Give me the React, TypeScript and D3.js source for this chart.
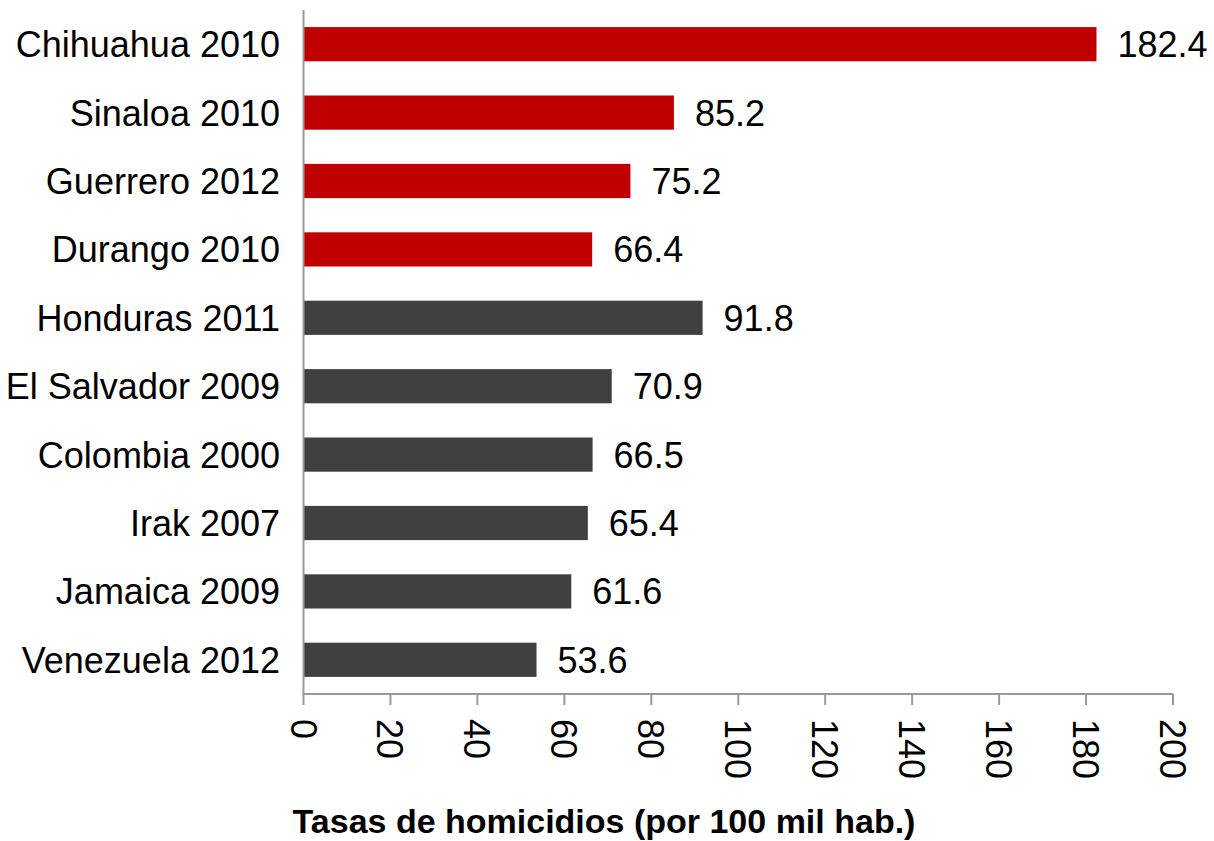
import React from "react";
import * as d3 from "d3";

const categories = [
  "Chihuahua 2010",
  "Sinaloa 2010",
  "Guerrero 2012",
  "Durango 2010",
  "Honduras 2011",
  "El Salvador 2009",
  "Colombia 2000",
  "Irak 2007",
  "Jamaica 2009",
  "Venezuela 2012",
];
const values = [182.4, 85.2, 75.2, 66.4, 91.8, 70.9, 66.5, 65.4, 61.6, 53.6];
const groups = ["mx", "mx", "mx", "mx", "w", "w", "w", "w", "w", "w"];
const xTicks = [0, 20, 40, 60, 80, 100, 120, 140, 160, 180, 200];
const axisTitle = "Tasas de homicidios (por 100 mil hab.)";

const W = 1214;
const H = 841;
const left = 303.5;
const right = 1173;
const top = 10;
const bottom = 694;
const font = "'Liberation Sans', Arial, sans-serif";

export default function App() {
  const x = d3.scaleLinear().domain([0, 200]).range([left, right]);
  const y = d3
    .scaleBand<string>()
    .domain(categories)
    .range([top, bottom])
    .paddingInner(0.5)
    .paddingOuter(0.25);
  const color = (g: string) => (g === "mx" ? "#C00000" : "#404040");

  return (
    <svg
      width={W}
      height={H}
      style={{ position: "absolute", left: 0, top: 0 }}
    >
      {categories.map((c, i) => (
        <g key={c}>
          <rect
            x={x(0)}
            y={y(c)!}
            width={x(values[i]) - x(0)}
            height={y.bandwidth()}
            fill={color(groups[i])}
          />
          <text
            x={280}
            y={y(c)! + y.bandwidth() / 2}
            dy="0.36em"
            textAnchor="end"
            fontFamily={font}
            fontSize={36}
            fill="#000"
          >
            {c}
          </text>
          <text
            x={x(values[i]) + 21}
            y={y(c)! + y.bandwidth() / 2}
            dy="0.36em"
            textAnchor="start"
            fontFamily={font}
            fontSize={36}
            fill="#000"
          >
            {values[i].toFixed(1)}
          </text>
        </g>
      ))}
      <line x1={left} x2={left} y1={top} y2={bottom + 1} stroke="#999" strokeWidth={2} />
      <line x1={left} x2={right} y1={bottom} y2={bottom} stroke="#999" strokeWidth={2} />
      {xTicks.map((t) => (
        <g key={t}>
          <line x1={x(t)} x2={x(t)} y1={bottom} y2={bottom + 11} stroke="#999" strokeWidth={2} />
          <text
            transform={`translate(${x(t)},${bottom + 25}) rotate(90)`}
            dy="0.36em"
            textAnchor="start"
            fontFamily={font}
            fontSize={36}
            fill="#000"
          >
            {t}
          </text>
        </g>
      ))}
      <text
        x={604}
        y={833}
        textAnchor="middle"
        fontFamily={font}
        fontWeight="bold"
        fontSize={34}
        fill="#000"
      >
        {axisTitle}
      </text>
    </svg>
  );
}
